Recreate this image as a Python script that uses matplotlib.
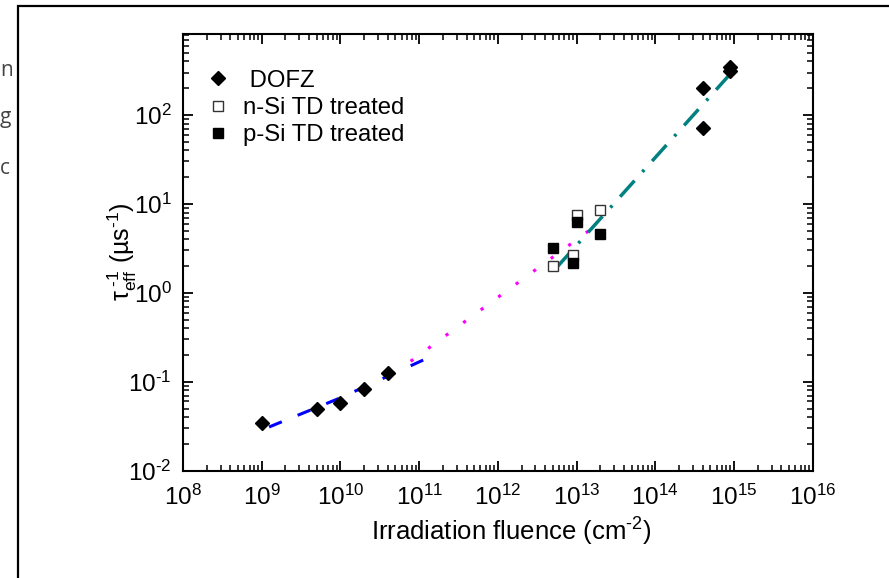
import matplotlib
matplotlib.use("Agg")
import matplotlib.pyplot as plt
import numpy as np
from matplotlib.patches import Rectangle
from matplotlib.ticker import FuncFormatter, LogLocator

plt.rcParams['font.family'] = ['Liberation Sans', 'DejaVu Sans']
plt.rcParams['mathtext.fontset'] = 'custom'
plt.rcParams['mathtext.rm'] = 'Liberation Sans'
plt.rcParams['mathtext.it'] = 'Liberation Sans:italic'
plt.rcParams['mathtext.default'] = 'regular'
plt.rcParams['axes.unicode_minus'] = False

# ---- data ----
dofz_x = [1e9, 5e9, 1e10, 2e10, 4e10, 4e14, 4e14, 9e14, 9e14]
dofz_y = [0.034, 0.050, 0.058, 0.082, 0.126, 200, 72, 350, 315]

nsi_x = [5e12, 9e12, 1e13, 2e13]
nsi_y = [2.0, 2.65, 7.5, 8.6]

psi_x = [5e12, 9e12, 1e13, 2e13]
psi_y = [3.2, 2.15, 6.3, 4.6]

fit_low_x = [1.24e9, 1e10, 1.2e11]
fit_low_y = [0.031, 0.066, 0.18]

fit_mid_x = [7.8e10, 2.2e13]
fit_mid_y = [0.17, 6.6]

fit_high_x = [5.5e12, 9.3e14]
fit_high_y = [1.9, 300]

legend_labels = [" DOFZ", "n-Si TD treated", "p-Si TD treated"]
xlabel = "Irradiation fluence (cm$^{\u2010 2}$)"
ylabel = "τ$_{eff}^{\\ \u20101}$ (µs$^{\u20101}$)"

HY = "\u2010"


def pow10(v, pos):
    e = int(round(np.log10(v)))
    s = str(e).replace("-", HY)
    return "$10^{%s}$" % s


W, H = 889, 578
fig = plt.figure(figsize=(W / 100, H / 100), dpi=100)

# outer frame (partially cropped)
fig.patches.append(Rectangle((18 / W, -0.5), 2.0, 1.5 - 6 / H,
                             transform=fig.transFigure, fill=False,
                             edgecolor='black', linewidth=1.6))
# neighbour text fragments at the left edge
for yy, ch in [(70, "n"), (117, "g"), (168, "c")]:
    fig.text(0 / W, 1 - yy / H, ch, ha='left', va='center', fontsize=15,
             color='#444444', family='Open Sans')

ax = fig.add_axes([183 / W, 1 - 470.7 / H, (812.7 - 183) / W, (470.7 - 34) / H])

ax.plot(fit_low_x, fit_low_y, color='#0000FF', lw=2.2, dashes=[4.5, 5.6], zorder=2)
ax.plot(fit_mid_x, fit_mid_y, color='#FF00FF', lw=2.3, dashes=[1.0, 5.8], zorder=2)
ax.plot(fit_high_x, fit_high_y, color='#008080', lw=2.5,
        dashes=[6.2, 3.4, 0.8, 3.4], zorder=2)

ax.plot(dofz_x, dofz_y, 'D', color='black', ms=7.2, ls='none', zorder=3,
        label=legend_labels[0])
ax.plot(nsi_x, nsi_y, 's', mfc='white', mec='#333333', mew=1.0, ms=6.5,
        ls='none', zorder=3, label=legend_labels[1])
ax.plot(psi_x, psi_y, 's', color='black', ms=6.5, ls='none', zorder=3,
        label=legend_labels[2])

ax.set_xscale('log')
ax.set_yscale('log')
ax.set_xlim(1e8, 1e16)
ax.set_ylim(1e-2, 814)

for s in ax.spines.values():
    s.set_linewidth(1.5)
ax.tick_params(which='both', direction='in', top=True, right=True,
               labelsize=17.5)
ax.tick_params(axis='x', which='major', pad=10)
ax.tick_params(axis='y', which='major', pad=8)
ax.tick_params(which='major', length=7, width=1.3)
ax.tick_params(which='minor', length=4, width=1.1)
for axis in (ax.xaxis, ax.yaxis):
    axis.set_major_locator(LogLocator(base=10, numticks=20))
    axis.set_minor_locator(LogLocator(base=10, subs=range(2, 10), numticks=20))
    axis.set_major_formatter(FuncFormatter(pow10))

ax.set_xlabel(xlabel, fontsize=18.5)
ax.xaxis.set_label_coords((511 - 183) / (812.7 - 183), -(532 - 470.7) / (470.7 - 34), )
ax.xaxis.label.set_va('center')
ax.set_ylabel(ylabel, fontsize=18)
ax.yaxis.set_label_coords(-(183 - 122) / (812.7 - 183), (470.7 - 252) / (470.7 - 34))
ax.yaxis.label.set_va('center')

ax.legend(loc='upper left', bbox_to_anchor=(0.025, 0.94), frameon=False,
          fontsize=17.2, handlelength=0.8, handletextpad=0.65,
          labelspacing=0.22, borderaxespad=0)

fig.savefig("out.png", dpi=100)
